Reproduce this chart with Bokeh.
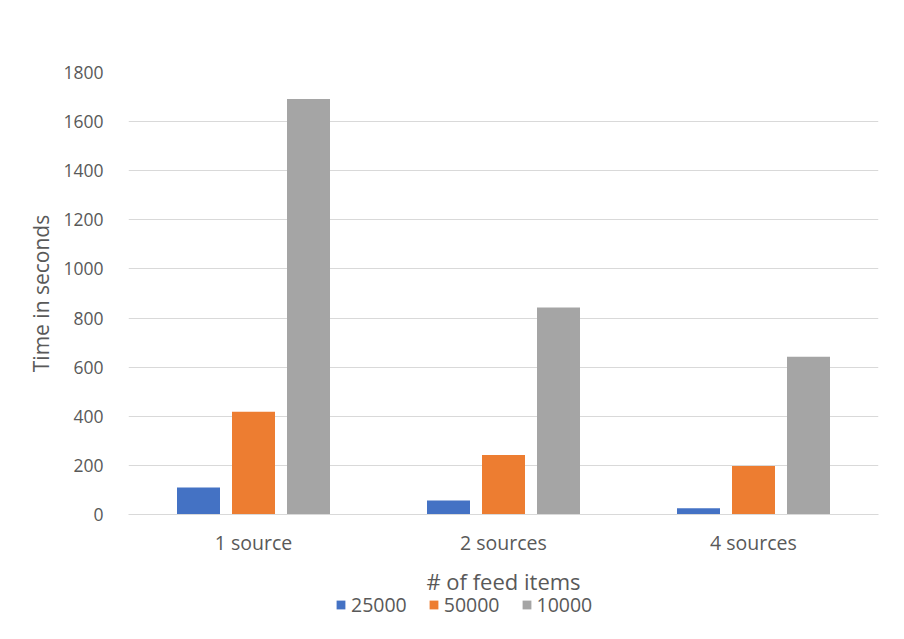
from bokeh.plotting import figure
from bokeh.models import ColumnDataSource, FactorRange, Range1d, Legend, LegendItem, FixedTicker, Label
from bokeh.layouts import column
from bokeh.transform import dodge
from bokeh.embed import file_html
from bokeh.resources import INLINE

categories = ["1 source", "2 sources", "4 sources"]
series = ["25000", "50000", "10000"]
v25000 = [110, 57, 25]
v50000 = [418, 242, 198]
v10000 = [1692, 843, 642]
colors = ["#4472C4", "#ED7D31", "#A5A5A5"]
y_ticks = [0, 200, 400, 600, 800, 1000, 1200, 1400, 1600, 1800]
x_title = "# of feed items"

source = ColumnDataSource(data=dict(cat=categories, s25000=v25000, s50000=v50000, s10000=v10000))

FONT = "Open Sans"
TXT = "#595959"

p = figure(width=904, height=562, x_range=FactorRange(*categories), y_range=Range1d(0, 1800),
           output_backend="svg", toolbar_location=None,
           min_border_left=128, min_border_right=26, min_border_top=72, min_border_bottom=48)
p.outline_line_color = None
p.background_fill_color = "white"
p.border_fill_color = "white"

cols = ["s25000", "s50000", "s10000"]
offsets = [-0.22, 0.0, 0.22]
for col, off, c in zip(cols, offsets, colors):
    p.vbar(x=dodge("cat", off, range=p.x_range), top=col, width=0.172, source=source,
           fill_color=c, line_color=None)

p.yaxis.ticker = FixedTicker(ticks=y_ticks)
p.ygrid.grid_line_color = "#D9D9D9"
p.ygrid.grid_line_width = 1
p.xgrid.grid_line_color = None

for ax in (p.xaxis, p.yaxis):
    ax.major_tick_line_color = None
    ax.minor_tick_line_color = None
    ax.major_label_text_font = FONT
    ax.major_label_text_color = TXT
    ax.axis_label_text_font = FONT
    ax.axis_label_text_color = TXT
    ax.axis_label_text_font_style = "normal"

p.yaxis.major_label_text_font_size = "17.5px"
p.xaxis.major_label_text_font_size = "19.5px"
p.yaxis.axis_line_color = None
p.yaxis.major_label_standoff = 19
p.yaxis.axis_label = "Time in seconds"
p.yaxis.axis_label_text_font_size = "21px"
p.yaxis.axis_label_standoff = 5
p.xaxis.axis_line_color = "#D9D9D9"
p.xaxis.major_label_standoff = 8

# legend panel with the category-axis title (its zero-size proxies lie outside its view)
q = figure(width=904, height=77, output_backend="svg", toolbar_location=None,
           min_border_left=128, min_border_right=26, min_border_top=0, min_border_bottom=0,
           x_range=FactorRange(*categories), y_range=Range1d(-2, -1))
q.outline_line_color = None
q.axis.visible = False
q.grid.visible = False
q.background_fill_color = "white"
q.border_fill_color = "white"

q.add_layout(Label(x=375, y=59, x_units="screen", y_units="screen", text=x_title,
                   text_align="center", text_baseline="middle", text_font=FONT,
                   text_font_size="22px", text_color=TXT))

lrs = []
for col, c in zip(cols, colors):
    lrs.append(q.vbar(x="cat", bottom=col, top=col, width=0, source=source,
                      fill_color=c, line_color=None))

legend = Legend(items=[LegendItem(label=s, renderers=[r]) for s, r in zip(series, lrs)],
                orientation="horizontal", location=(207, 21), border_line_color=None,
                label_text_font=FONT, label_text_font_size="19.5px", label_text_color=TXT,
                glyph_width=11, glyph_height=11, spacing=21, padding=0, margin=0,
                label_standoff=5, background_fill_alpha=0)
q.add_layout(legend, "center")

layout = column(p, q, spacing=0)
open("out.html", "w").write(file_html(layout, INLINE))
